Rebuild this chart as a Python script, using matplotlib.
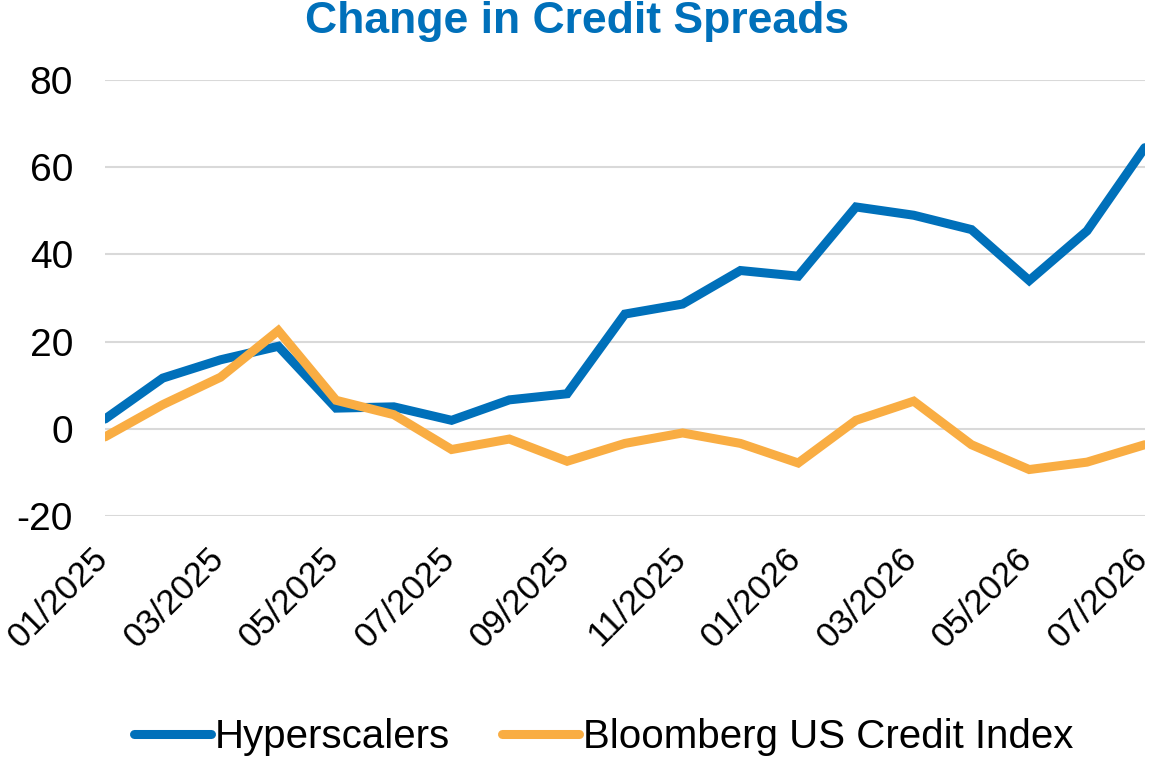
import matplotlib
matplotlib.use("Agg")
import matplotlib.pyplot as plt
import matplotlib.transforms as mtransforms

# ================================
# Data
# ================================

months = ["01/2025", "02/2025", "03/2025", "04/2025", "05/2025", "06/2025",
          "07/2025", "08/2025", "09/2025", "10/2025", "11/2025", "12/2025",
          "01/2026", "02/2026", "03/2026", "04/2026", "05/2026", "06/2026",
          "07/2026"]

hyperscalers = [2.2, 11.6, 15.8, 18.9, 4.7, 5.0, 1.9, 6.6, 8.0, 26.3,
                28.6, 36.3, 35.0, 50.9, 49.0, 45.7, 34.0, 45.4, 64.5]

bloomberg = [-1.9, 5.5, 11.8, 22.5, 6.5, 3.2, -4.8, -2.4, -7.5, -3.4,
             -1.0, -3.4, -7.9, 1.9, 6.3, -3.7, -9.4, -7.7, -3.7]

yticks = [-20, 0, 20, 40, 60, 80]

BLUE = "#0070BA"
ORANGE = "#F9AD43"

plt.rcParams["font.family"] = ["Liberation Sans", "DejaVu Sans"]
plt.rcParams["axes.unicode_minus"] = False

fig = plt.figure(figsize=(11.54, 7.64), dpi=100)
ax = fig.add_axes([0.091, 0.325, 0.901, 0.57])

x = list(range(len(months)))
ax.plot(x, hyperscalers, color=BLUE, lw=6.5, solid_capstyle="round",
        solid_joinstyle="miter", label="Hyperscalers", zorder=3)
ax.plot(x, bloomberg, color=ORANGE, lw=6.5, solid_capstyle="round",
        solid_joinstyle="miter", label="Bloomberg US Credit Index", zorder=3)

ax.set_xlim(0, len(months) - 1)
ax.set_ylim(-20, 80)
ax.set_yticks(yticks)
ax.set_xticks(x[::2])
ax.set_xticklabels(months[::2], rotation=45, ha="right", va="center",
                   rotation_mode="anchor")

ax.grid(axis="y", color="#D9D9D9", lw=1.5, zorder=0)
for s in ax.spines.values():
    s.set_visible(False)
ax.tick_params(axis="y", length=0, labelsize=28, pad=23)
ax.tick_params(axis="x", length=0, labelsize=25, pad=27)

# nudge the rotated labels a touch left so both end labels stay inside
shift = mtransforms.ScaledTranslation(-1.5 / 72, 0, fig.dpi_scale_trans)
for lbl in ax.get_xticklabels():
    lbl.set_transform(lbl.get_transform() + shift)

fig.text(0.5, 0.972, "Change in Credit Spreads", ha="center", va="center",
         fontsize=32, fontweight="bold", color=BLUE)

fig.legend(loc="center", bbox_to_anchor=(0.523, 0.035), ncol=2, frameon=False,
           fontsize=29, handlelength=1.9, handletextpad=0.1,
           columnspacing=1.3)

fig.savefig("out.png", dpi=100)
